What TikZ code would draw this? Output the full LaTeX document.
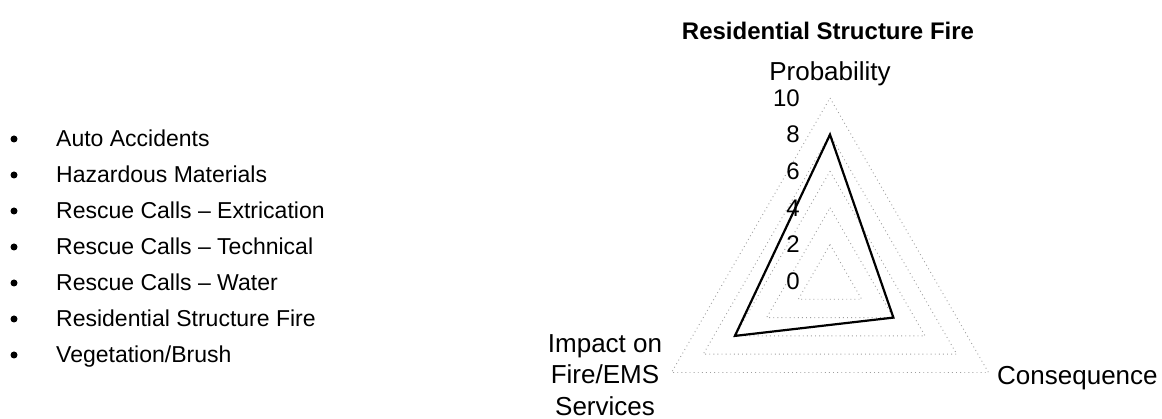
\documentclass[tikz,border=0pt]{standalone}
\usepackage{fontspec}
\setmainfont{Liberation Sans}
\begin{document}
\begin{tikzpicture}[x=1pt,y=-1pt,
  listitem/.style={anchor=base west, inner sep=0pt, text=black, font=\fontsize{23}{27}\selectfont},
  bulletdot/.style={circle, fill=black, minimum size=7pt, inner sep=0pt},
  titlelabel/.style={inner sep=0pt, font=\bfseries\fontsize{24}{28}\selectfont},
  axislabel/.style={inner sep=0pt, text=black, font=\fontsize{26}{31}\selectfont},
  ticklabel/.style={anchor=east, inner sep=0pt, text=black, font=\fontsize{24}{28}\selectfont},
  gridline/.style={gray!75, line width=0.9pt, dash pattern=on 0.9pt off 3.2pt},
  dataline/.style={black, line width=2.2pt, line join=miter}]
\useasboundingbox (0,0) rectangle (1162,419);

% bullet list
\foreach \t [count=\i] in {Auto Accidents,Hazardous Materials,Rescue Calls -- Extrication,Rescue Calls -- Technical,Rescue Calls -- Water,Residential Structure Fire,Vegetation/Brush}{
  \node[bulletdot] (b\i) at (14,{147+36*(\i-1)-8}) {};
  \node[listitem] (l\i) at (56,{147+36*(\i-1)}) {\t};
}

% title
\node[titlelabel] (title) at (828,31) {Residential Structure Fire};

% radar grid
\coordinate (C) at (830,281);
\foreach \v in {2,4,6,8,10}{
  \coordinate (gp\v) at (830,{281-18.3*\v});
  \coordinate (gc\v) at ({830+18.3*\v*0.8660},{281+18.3*\v*0.5});
  \coordinate (gi\v) at ({830-18.3*\v*0.8660},{281+18.3*\v*0.5});
  \draw[gridline] (gp\v) -- (gc\v) -- (gi\v) -- cycle;
}

% tick labels
\foreach \v in {0,2,4,6,8,10}{
  \node[ticklabel] (t\v) at (800,{281-18.3*\v}) {\v};
}

% data polygon
\coordinate (dP) at (830,{281-18.3*8});
\coordinate (dC) at ({830+18.3*4*0.8660},{281+18.3*4*0.5});
\coordinate (dI) at ({830-18.3*6*0.8660},{281+18.3*6*0.5});
\draw[dataline] (dP) -- (dC) -- (dI) -- cycle;

% axis labels
\node[axislabel, anchor=base] (prob) at (830,81) {Probability};
\node[axislabel, anchor=base west] (cons) at (997,385) {Consequence};
\node[axislabel, anchor=base] (imp1) at (605,353) {Impact on};
\node[axislabel, anchor=base] (imp2) at (605,384) {Fire/EMS};
\node[axislabel, anchor=base] (imp3) at (605,415) {Services};
\end{tikzpicture}
\end{document}
